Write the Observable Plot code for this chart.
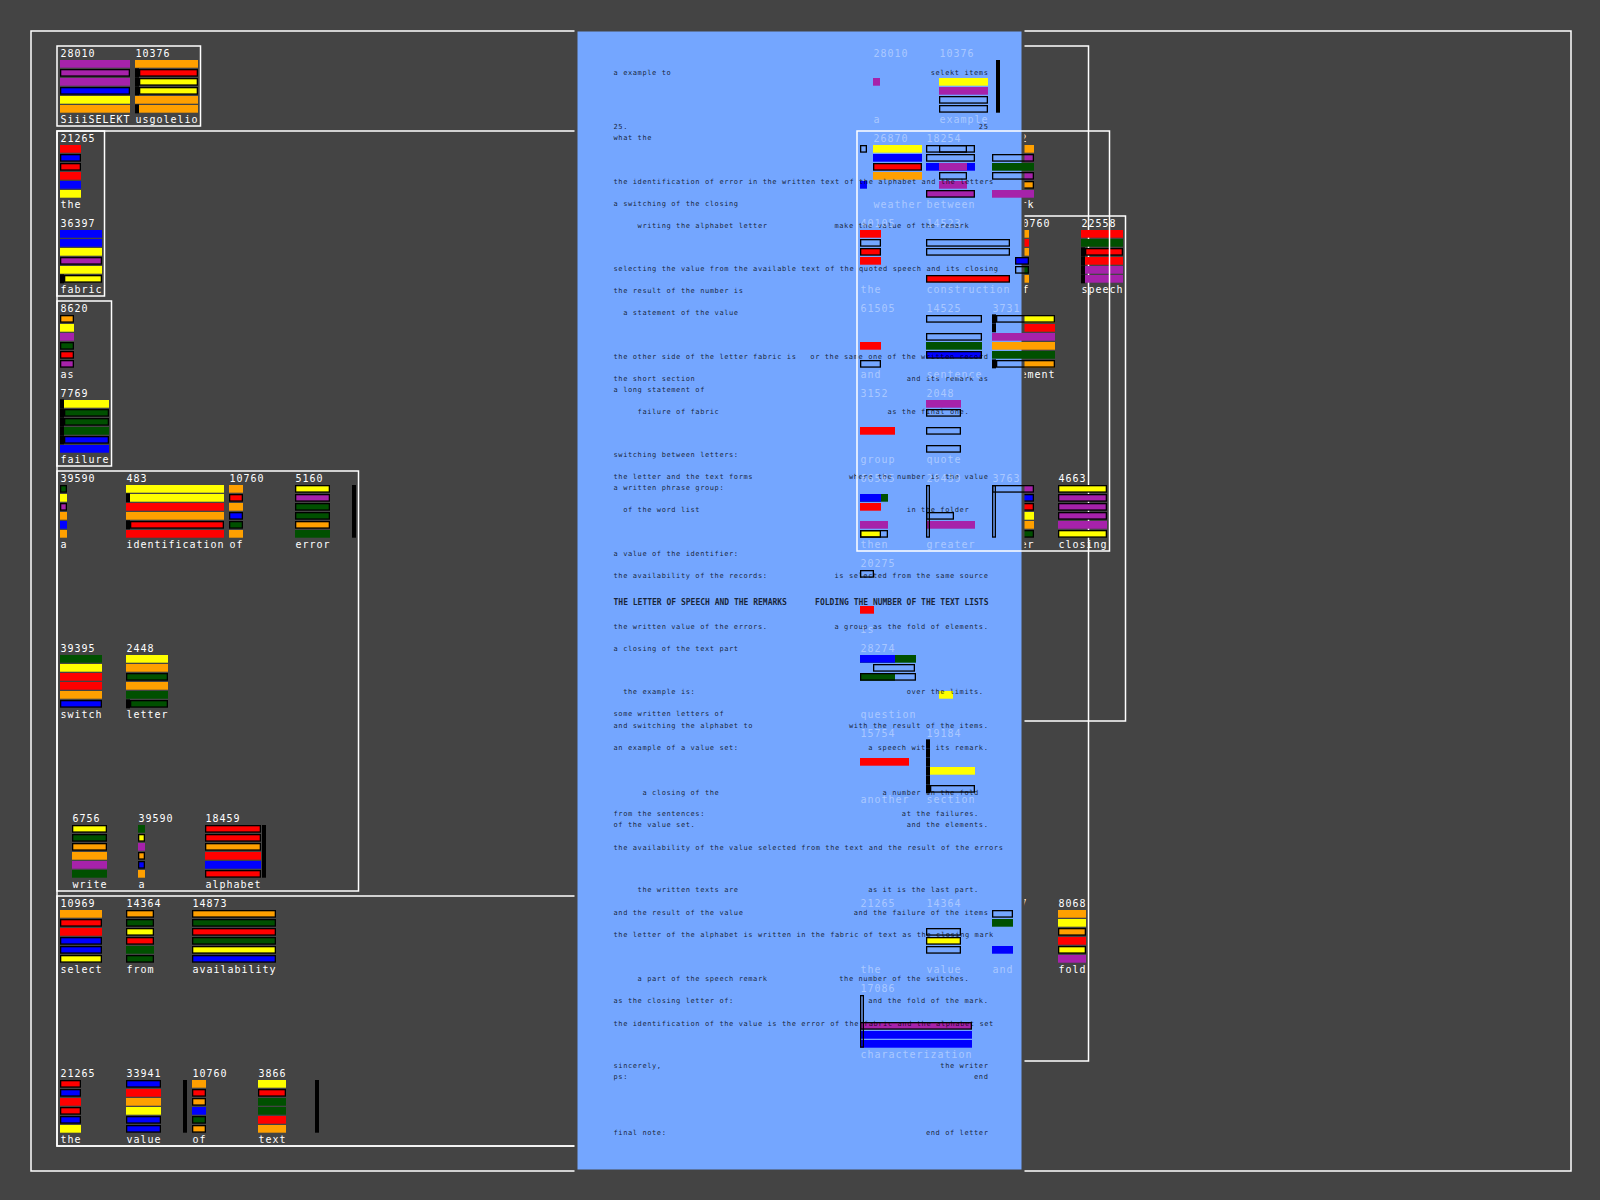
<!DOCTYPE html>
<html><head><meta charset="utf-8">
<script src="https://cdn.jsdelivr.net/npm/d3@7"></script>
<script src="https://cdn.jsdelivr.net/npm/@observablehq/plot@0.6"></script>
<style>
html,body{margin:0;padding:0;background:#444;}
#chart svg{display:block;}
g[font-size="10"] text{letter-spacing:0.98px;}
g[font-size="7"] text{letter-spacing:0.6px;}
</style></head><body><div id="chart"></div><script>
// ---------------- data ----------------
const words = ["SiiiSELEKT","usgolelio","the","fabric","as","failure","a","identification","of","error","switch","letter","write","a","alphabet","select","from","availability","the","value","of","text",
 "a","example","a","weather","between","then","remark","the","construction","of","speech","and","sentence","statement","group","quote","then","the","greater","that","number","closing","is","question","value","letter","of","another","section","the","value","and","fold","characterization"];
const counts = [28010,10376,21265,36397,8620,7769,39590,483,10760,5160,39395,2448,6756,39590,18459,10969,14364,14873,21265,33941,10760,3866,
 28010,10376,null,26870,18254,null,10592,40105,14523,10760,22558,61505,14525,3731,3152,2048,66565,null,20439,null,3763,4663,20275,28274,null,null,null,15754,19184,21265,14364,36397,8068,17086];
const barColors = ["PPPBYO","ORYYOO","RBRRBY","BBYPYY","OYPGRP","YGGGBB","GYPOBO","YYRORR","OROBGO","YPGGOG","GYRROB","YOGOGG","YGOOPG","GYPOBO","RRORBR","ORRBBY","OGYRGG","OGRGYB","RBRRBY","BROYBB","OROBGO","YRGGRO",
 "--P---","--YP--","----B-","YBRO--","--B--P","--P-P-","OPGPOP","R-RR--","-----R","OROBGO","RGRRPP","---R--","---GB-","YRPOGO","---R--","P-----","-G--P-","-BR--Y","----P-","------","PBRYOG","YPPPPY","----R-","G-----","B-G---","------","----Y-","--R---","---Y--","------","---Y--","-G--B-","OYORYP","---PBB"];
// f fill, o fill+outline, e outline only, u fill under panel, v fill under + outline over, w fill+outline under
const barStyles = ["fofoff","foooff","foofff","fffofo","offooo","foofof","ofofff","ffffof","fofoof","ooooof","fffffo","ffoffo","ooofff","fofoof","oooffo","fofooo","oooofo","oooooo","oofoof","offfoo","foofoo","foffff",
 "--f---","--ffee","e---f-","ffof--","eef--o","e-fef-","uvfvwf","feof--","-ee--o","uuuovu","ffofff","---f-e","e-efo-","vufffv","---f--","fe-e-e","-f--fe","-ff--o","----f-","---e--","vwwuuw","oooofo","e---f-","f-e---","f-f---","-e----","----f-","--f---","---f-e","------","--eoe-","ef--f-","ffofof","---off"];
const leftMarks = ["","011101","","000001","","111110","","010010","","","","000001","","","","","","","","","","",
 "","","","","","","","","","","001111","","","110001","","","","","","","","","","","","","","","111111","","","","",""];
const rightBars = [0,0,0,0,0,0,0,0,0,1,0,0,0,0,1,0,0,0,0,1,0,1, 0,1,0,0,0,0,0,0,0,0,0,0,0,0,0,0,0,0,0,0,0,0,0,0,0,0,0,0,0,0,0,0,0,0];
const leftFrames = [0,0,0,0,0,0,0,0,0,0,0,0,0,0,0,0,0,0,0,0,0,0, 0,0,0,0,0,0,0,0,0,0,0,0,0,0,0,0,0,0,1,0,1,0,0,0,0,0,0,0,0,0,0,0,0,1];
const colorKeys = ["P","B","Y","O","R","G"];
const colorHex  = ["#a622aa","#0000ff","#ffff00","#ffa000","#ff0000","#005000"];

// document text in the highlighted panel (line number, left column, right column)
const docLine = [0,5,6,10,12,14,18,20,22,26,28,29,31,35,37,38,40,44,46,48.5,50.7,52.7,56.7,58.7,59.8,61.8,65.9,67.8,68.8,70.9,74.8,76.9,78.9,82.9,84.9,87,90.9,91.9,97];
const N = "\u00a0";
const docLeft = ["a example to","25.","what the",
 "the identification of error in the written text of the alphabet and the letters",
 "a switching of the closing", N.repeat(5)+"writing the alphabet letter",
 "selecting the value from the available text of the quoted speech and its closing",
 "the result of the number is", N.repeat(2)+"a statement of the value",
 "the other side of the letter fabric is","the short section","a long statement of",N.repeat(5)+"failure of fabric",
 "switching between letters:","the letter and the text forms","a written phrase group:",N.repeat(2)+"of the word list",
 "a value of the identifier:","the availability of the records:","THE LETTER OF SPEECH AND THE REMARKS",
 "the written value of the errors.","a closing of the text part",N.repeat(2)+"the example is:","some written letters of",
 "and switching the alphabet to","an example of a value set:",N.repeat(6)+"a closing of the","from the sentences:","of the value set.",
 "the availability of the value selected from the text and the result of the errors",
 N.repeat(5)+"the written texts are","and the result of the value",
 "the letter of the alphabet is written in the fabric of text as the closing mark",
 N.repeat(5)+"a part of the speech remark","as the closing letter of:",
 "the identification of the value is the error of the fabric and the alphabet set",
 "sincerely,","ps:","final note:"];
const docRight = ["selekt items","25","","","", "make the value of the remark"+N.repeat(4),"","","",
 "or the same one of the written record","and its remark as","","as the final one."+N.repeat(4),
 "","where the number is the value","","in the folder"+N.repeat(4),"","is selected from the same source",
 "FOLDING THE NUMBER OF THE TEXT LISTS","a group as the fold of elements.","",
 "over the limits."+N,"","with the result of the items.","a speech with its remark.",
 "a number in the fold"+N.repeat(2),"at the failures."+N.repeat(2),"and the elements.","",
 "as it is the last part."+N.repeat(2),"and the failure of the items","",
 "the number of the switches."+N.repeat(4),"and the fold of the mark.","","the writer","end","end of letter"];

// ---------------- layout ----------------
const tileRow = [0,0,1,2,3,4,5,5,5,5,7,7,9,9,9,10,10,10,12,12,12,12,
 0,0,1,1,1,1,1,2,2,2,2,3,3,3,4,4,5,5,5,5,5,5,6,7,7,7,7,8,8,10,10,10,10,11];
const tileX = [60,135,60,60,60,60,60,126,229,295,60,126,72,138,205,60,126,192,60,126,192,258,
 873,939,860,873,926,939,992,860,926,1015,1081,860,926,992,860,926,860,860,926,926,992,1058,860,860,860,873,939,860,926,860,926,992,1058,860];
const range = (a,b)=>d3.range(a,b+1);
const boxGroups = [
 {tiles:[0,1]},{tiles:[2,3]},{tiles:[4,5]},{tiles:range(6,14)},
 {tiles:[...range(15,21),53]},{tiles:[...range(2,21),53]},
 {tiles:range(24,43).filter(i=>i!==32),over:true},{tiles:range(29,48)},
 {tiles:range(22,55).filter(i=>i!==32 && i!==43)}
];
const CH=7, ROW0=49, ROW_STEP=85, BAR_OFF=11, BAR_STEP=9, BAR_H=7.7, MARK_W=4, RBAR_OFF=57;
const PANEL = {x1:576, x2:1023, y1:30, y2:1171};
const DOC_X1 = 613, DOC_X2 = 988, DOC_Y0 = 72, DOC_STEP = 10.93;

// ---------------- derived ----------------
const tiles = words.map((word,i)=>({i, word, count:counts[i], x:tileX[i], T:ROW0+ROW_STEP*tileRow[i], w:word.length*CH}));
const bars=[], blacks=[], rbars=[], frames=[];
tiles.forEach(t=>{
  const lm = leftMarks[t.i];
  for(let r=0;r<6;r++){
    const y1=t.T+BAR_OFF+BAR_STEP*r, lb = lm[r]==="1", s=barStyles[t.i][r];
    if(lb) blacks.push({x1:t.x, x2:t.x+MARK_W, y1:y1-0.65, y2:y1+BAR_H+0.65});
    if(s!=="-") bars.push({color:barColors[t.i][r], style:s, x1:t.x+(lb?MARK_W:0), x2:t.x+t.w, y1, y2:y1+BAR_H});
  }
  const top=t.T+BAR_OFF, bot=t.T+BAR_OFF+BAR_STEP*5+BAR_H;
  if(rightBars[t.i]) rbars.push({x1:t.x+RBAR_OFF, x2:t.x+RBAR_OFF+MARK_W, y1:top, y2:bot});
  if(leftFrames[t.i]) frames.push({x1:t.x, x2:t.x+MARK_W, y1:top, y2:bot});
});
const boxes = boxGroups.map(g=>{
  const ts=g.tiles.map(i=>tiles[i]);
  return {over:!!g.over,
    x1:d3.min(ts,t=>t.x)-3,
    x2:d3.max(ts,t=>t.x+Math.max(t.w, rightBars[t.i]?RBAR_OFF+MARK_W:0))+2.5,
    y1:d3.min(ts,t=>t.T)-3,
    y2:d3.max(ts,t=>t.T)+77};
});
// tile texts: one entry per number / label; those lying wholly inside the panel show through faintly
const texts = [];
tiles.filter(t=>t.count!=null).forEach(t=>{
  const num = String(t.count);
  texts.push({x:t.x, y:t.T, text:num, inside: t.x>=PANEL.x1 && t.x+num.length*CH<=PANEL.x2});
  texts.push({x:t.x, y:t.T+66.5, text:t.word, inside: t.x>=PANEL.x1 && t.x+t.w<=PANEL.x2});
});
const doc = docLine.map((n,i)=>({y:DOC_Y0+n*DOC_STEP, left:docLeft[i], right:docRight[i], bold:n===48.5}));

const R = {x1:"x1",x2:"x2",y1:"y1",y2:"y2"};
const pick = set => bars.filter(b=>set.includes(b.style));
const txt = (extra)=>({x:"x", y:"y", text:"text", textAnchor:"start", lineAnchor:"top", fontSize:10, fontFamily:"DejaVu Sans Mono", fill:"white", ...extra});
const docOpts = (extra)=>({y:"y", fontSize:7, fontFamily:"DejaVu Sans Mono", fill:"black", fillOpacity:0.8, ...extra});

const chart = Plot.plot({
  width:1600, height:1200, margin:0,
  x:{domain:[0,1600], range:[0,1600], axis:null},
  y:{domain:[0,1200], range:[0,1200], axis:null},
  color:{domain:colorKeys, range:colorHex, legend:false},
  style:{background:"#444", overflow:"visible"},
  marks:[
    Plot.frame({stroke:"white", strokeWidth:1.5, insetTop:30.5, insetLeft:30.5, insetRight:29.5, insetBottom:29.5}),
    Plot.rect(boxes.filter(b=>!b.over), {...R, fill:"none", stroke:"white", strokeWidth:1.5}),
    // parts lying beneath the highlight panel
    Plot.rect(pick(["u","v"]), {...R, fill:d=>d.color}),
    Plot.rect(pick(["w"]), {...R, fill:d=>d.color, stroke:"black", strokeWidth:1.3, inset:0.65}),
    Plot.text(texts.filter(d=>!d.inside), txt({})),
    // highlight panel
    Plot.rect([PANEL], {...R, fill:"#74a6ff", stroke:"#444", strokeWidth:3}),
    // bars above the panel
    Plot.rect(pick(["f"]), {...R, fill:d=>d.color}),
    Plot.rect(pick(["o"]), {...R, fill:d=>d.color, stroke:"black", strokeWidth:1.3, inset:0.65}),
    Plot.rect(pick(["e","v"]), {...R, fill:"none", stroke:"black", strokeWidth:1.3, inset:0.65}),
    Plot.rect(blacks, {...R, fill:"black"}),
    Plot.rect(rbars, {...R, fill:"black"}),
    Plot.rect(frames, {...R, fill:"none", stroke:"black", strokeWidth:1.3, inset:0.65}),
    // document text
    Plot.text(doc.filter(d=>!d.bold), docOpts({x:()=>DOC_X1, text:"left", textAnchor:"start"})),
    Plot.text(doc.filter(d=>!d.bold && d.right), docOpts({x:()=>DOC_X2, text:"right", textAnchor:"end"})),
    Plot.text(doc.filter(d=>d.bold), docOpts({x:()=>DOC_X1, text:"left", textAnchor:"start", fontSize:8, fontWeight:"bold"})),
    Plot.text(doc.filter(d=>d.bold), docOpts({x:()=>DOC_X2, text:"right", textAnchor:"end", fontSize:8, fontWeight:"bold"})),
    // faint tile texts showing through the panel
    Plot.text(texts.filter(d=>d.inside), txt({fillOpacity:0.4})),
    Plot.rect(boxes.filter(b=>b.over), {...R, fill:"none", stroke:"white", strokeWidth:1.5})
  ]
});
document.getElementById("chart").appendChild(chart);
</script></body></html>
